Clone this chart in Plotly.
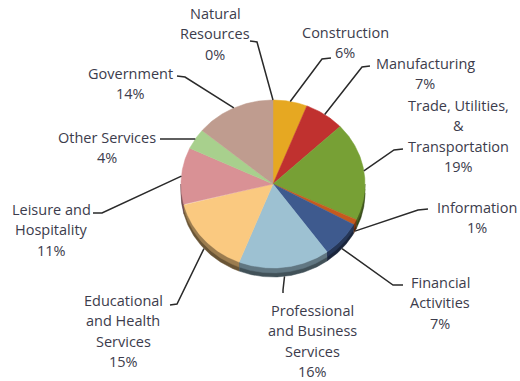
import numpy as np
import plotly.graph_objects as go

# Employment share by industry (percent)
categories = [
    "Natural Resources", "Construction", "Manufacturing",
    "Trade, Utilities, & Transportation", "Information",
    "Financial Activities", "Professional and Business Services",
    "Educational and Health Services", "Leisure and Hospitality",
    "Other Services", "Government",
]
shares = [0, 6, 7, 19, 1, 7, 16, 15, 11, 4, 14]

# Label text, one entry per line
label_lines = [
    ["Natural", "Resources"],
    ["Construction"],
    ["Manufacturing"],
    ["Trade, Utilities,", "&", "Transportation"],
    ["Information"],
    ["Financial", "Activities"],
    ["Professional", "and Business", "Services"],
    ["Educational", "and Health", "Services"],
    ["Leisure and", "Hospitality"],
    ["Other Services"],
    ["Government"],
]

colors = [
    "#4F81BD", "#E6A822", "#C0312F", "#77A035", "#C55A1E", "#3E5A8E",
    "#9DC1D2", "#FAC980", "#D99195", "#A8D08D", "#BF9C8F",
]

# Pie geometry (pixel space)
cx, cy, rx, ry, depth = 273, 184, 92, 84, 9

# Label placement: text centre x, first line y, leader start, leader elbow
label_x = [215, 345, 425, 458, 477, 440, 312, 123, 51, 107, 130]
label_y0 = [13, 32, 63, 105, 207, 282, 310, 300, 209, 137, 73]
leader_start = [(250, 41), (331, 58), (370, 66), (403, 149), (428, 209),
                (403, 285), (283, 293), (170, 305), (93, 213), (160, 139),
                (177, 76)]
leader_elbow = [(257, 42), (322, 59), (362, 67), (394, 150), (418, 210),
                (393, 285), (283, 290), (177, 304), (102, 213), (168, 139),
                (185, 77)]
line_h = 20.5
text_color = "#3c3c4c"


def shade(hex_color, f):
    h = hex_color.lstrip("#")
    r, g, b = (int(h[i:i + 2], 16) for i in (0, 2, 4))
    return "rgb({},{},{})".format(int(r * f), int(g * f), int(b * f))


def pt(a_deg, dy=0.0):
    a = np.radians(a_deg)
    return cx + rx * np.sin(a), cy - ry * np.cos(a) + dy


total = float(sum(shares))
edges = np.concatenate([[0.0], np.cumsum(shares)]) / total * 360.0

fig = go.Figure()

# Side wall of the pie (visible along the lower half)
strips = [(0.0, 1.0, 0.42), (0.0, 0.55, 0.62)]
for i, c in enumerate(colors):
    a0, a1 = max(edges[i], 90.0), min(edges[i + 1], 270.0)
    if a1 <= a0:
        continue
    arc = np.linspace(a0, a1, max(int((a1 - a0) * 2), 2))
    for top_f, bot_f, f in strips:
        xt, yt = pt(arc, depth * top_f)
        xb, yb = pt(arc[::-1], depth * bot_f)
        fig.add_trace(go.Scatter(
            x=np.concatenate([xt, xb]), y=np.concatenate([yt, yb]),
            fill="toself", mode="lines", fillcolor=shade(c, f),
            line=dict(color=shade(c, f), width=0.5),
            hoverinfo="skip", showlegend=False))

# Top face slices
for i, c in enumerate(colors):
    a0, a1 = edges[i], edges[i + 1]
    if a1 <= a0:
        continue
    arc = np.linspace(a0, a1, max(int((a1 - a0) * 2), 2))
    xs, ys = pt(arc)
    fig.add_trace(go.Scatter(
        x=np.concatenate([[cx], xs, [cx]]), y=np.concatenate([[cy], ys, [cy]]),
        fill="toself", mode="lines", fillcolor=c,
        line=dict(color=c, width=0.5),
        name=categories[i], hoverinfo="name", showlegend=False))

# Leader lines from labels to the slice edges
for i in range(len(shares)):
    mid = (edges[i] + edges[i + 1]) / 2.0
    lower = np.cos(np.radians(mid)) < 0
    ax, ay = pt(mid, depth if lower else 0.0)
    sx, sy = leader_start[i]
    ex, ey = leader_elbow[i]
    fig.add_trace(go.Scatter(
        x=[sx, ex, ax], y=[sy, ey, ay], mode="lines",
        line=dict(color="#2a2a2a", width=1.5),
        hoverinfo="skip", showlegend=False))

# Category labels with percentages
for i, lines in enumerate(label_lines):
    rows = lines + ["{}%".format(shares[i])]
    for k, row in enumerate(rows):
        fig.add_annotation(
            x=label_x[i], y=label_y0[i] + k * line_h, text=row,
            showarrow=False, xanchor="center", yanchor="middle",
            font=dict(family="Open Sans", size=14.5, color=text_color))

fig.update_layout(
    width=520, height=381,
    margin=dict(l=0, r=0, t=0, b=0),
    paper_bgcolor="white", plot_bgcolor="white",
    xaxis=dict(range=[0, 520], visible=False, fixedrange=True),
    yaxis=dict(range=[381, 0], visible=False, fixedrange=True),
)

fig.write_html("out.html")
